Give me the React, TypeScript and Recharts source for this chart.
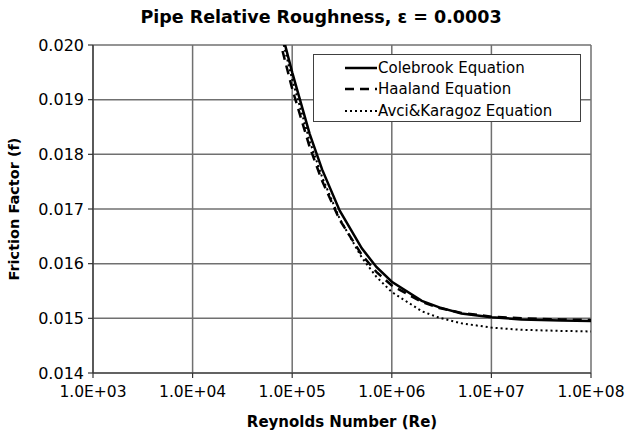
import React from "react";
import {
  LineChart,
  Line,
  XAxis,
  YAxis,
  CartesianGrid,
  Legend,
} from "recharts";

const reValues = [8e4, 1e5, 1.5e5, 2e5, 3e5, 5e5, 7e5, 1e6, 2e6, 3e6, 5e6, 1e7, 2e7, 5e7, 1e8];
const colebrookF = [0.02018, 0.0195, 0.01837, 0.01772, 0.01697, 0.01628, 0.01594, 0.01567, 0.01532, 0.0152, 0.01509, 0.01502, 0.01498, 0.01496, 0.01495];
const haalandF = [0.01989, 0.0192, 0.01813, 0.01751, 0.0168, 0.01616, 0.01585, 0.0156, 0.0153, 0.01519, 0.0151, 0.01503, 0.015, 0.01498, 0.01497];
const avciF = [0.02009, 0.01937, 0.01824, 0.01758, 0.01682, 0.01611, 0.01576, 0.01548, 0.01513, 0.01501, 0.01491, 0.01483, 0.01479, 0.01477, 0.01476];

const xTicks = [1e3, 1e4, 1e5, 1e6, 1e7, 1e8];
const yTicks = [0.014, 0.015, 0.016, 0.017, 0.018, 0.019, 0.02];

const seriesNames = ["Colebrook Equation", "Haaland Equation", "Avci&Karagoz Equation"];
const titleText = "Pipe Relative Roughness, \u03b5 = 0.0003";
const xLabel = "Reynolds Number (Re)";
const yLabel = "Friction Factor (f)";

const data = reValues.map((re, i) => ({
  re,
  colebrook: colebrookF[i],
  haaland: haalandF[i],
  avci: avciF[i],
}));

const FONT = "'DejaVu Sans', Verdana, sans-serif";

const fmtX = (v: number) => {
  const e = Math.round(Math.log10(v));
  return `1.0E+${e < 10 ? "0" + e : e}`;
};

const legendItems = [
  { name: seriesNames[0], dash: undefined as string | undefined, width: 2.5 },
  { name: seriesNames[1], dash: "9 6", width: 2.5 },
  { name: seriesNames[2], dash: "2 3", width: 2 },
];

const LegendBox = () => (
  <div
    style={{
      border: "1px solid #404040",
      background: "#fff",
      width: 268,
      height: 68,
      boxSizing: "border-box",
      paddingTop: 2,
      fontFamily: FONT,
      fontSize: 15,
      color: "#000",
    }}
  >
    {legendItems.map((it) => (
      <div key={it.name} style={{ display: "flex", alignItems: "center", height: 21.5 }}>
        <svg width={64} height={10} style={{ flex: "none" }}>
          <line x1={31} x2={63} y1={5} y2={5} stroke="#000" strokeWidth={it.width} strokeDasharray={it.dash} />
        </svg>
        <span style={{ marginLeft: 0, whiteSpace: "nowrap" }}>{it.name}</span>
      </div>
    ))}
  </div>
);

export default function App() {
  return (
    <div style={{ position: "absolute", left: 0, top: 0, width: 630, height: 431, background: "#fff" }}>
      <div
        style={{
          position: "absolute",
          left: 0,
          top: 7,
          width: 630,
          paddingLeft: 12,
          boxSizing: "border-box",
          textAlign: "center",
          fontFamily: FONT,
          fontWeight: "bold",
          fontSize: 17.5,
          color: "#000",
        }}
      >
        {titleText}
      </div>
      <LineChart
        width={630}
        height={431}
        data={data}
        margin={{ top: 45, right: 39, bottom: 0, left: 0 }}
      >
        <CartesianGrid stroke="#707070" strokeWidth={1.5} fill="#fff" />
        <XAxis
          dataKey="re"
          type="number"
          scale="log"
          domain={[1e3, 1e8]}
          ticks={xTicks}
          tickFormatter={fmtX}
          allowDataOverflow
          height={58}
          tickSize={5}
          tickMargin={8}
          stroke="#333"
          strokeWidth={1.2}
          tick={{ fill: "#000", fontSize: 15.5, fontFamily: FONT }}
          label={{
            value: xLabel,
            position: "insideBottom",
            offset: 4,
            fill: "#000",
            fontSize: 15,
            fontWeight: "bold",
            fontFamily: FONT,
          }}
        />
        <YAxis
          type="number"
          domain={[0.014, 0.02]}
          ticks={yTicks}
          tickFormatter={(v: number) => v.toFixed(3)}
          allowDataOverflow
          width={93}
          tickSize={5}
          tickMargin={4}
          stroke="#333"
          strokeWidth={1.2}
          tick={{ fill: "#000", fontSize: 16, fontFamily: FONT }}
          label={{
            value: yLabel,
            angle: -90,
            position: "insideLeft",
            offset: 14,
            style: { textAnchor: "middle" },
            fill: "#000",
            fontSize: 14.5,
            fontWeight: "bold",
            fontFamily: FONT,
          }}
        />
        <Legend
          layout="vertical"
          align="center"
          verticalAlign="middle"
          content={() => <LegendBox />}
          wrapperStyle={{ left: 313, top: 54, width: 268, height: 68 }}
        />
        <Line
          dataKey="avci"
          name={seriesNames[2]}
          stroke="#000"
          strokeWidth={2}
          strokeDasharray="2 3"
          dot={false}
          isAnimationActive={false}
        />
        <Line
          dataKey="haaland"
          name={seriesNames[1]}
          stroke="#000"
          strokeWidth={2.5}
          strokeDasharray="9 6"
          dot={false}
          isAnimationActive={false}
        />
        <Line
          dataKey="colebrook"
          name={seriesNames[0]}
          stroke="#000"
          strokeWidth={2.5}
          dot={false}
          isAnimationActive={false}
        />
      </LineChart>
    </div>
  );
}
